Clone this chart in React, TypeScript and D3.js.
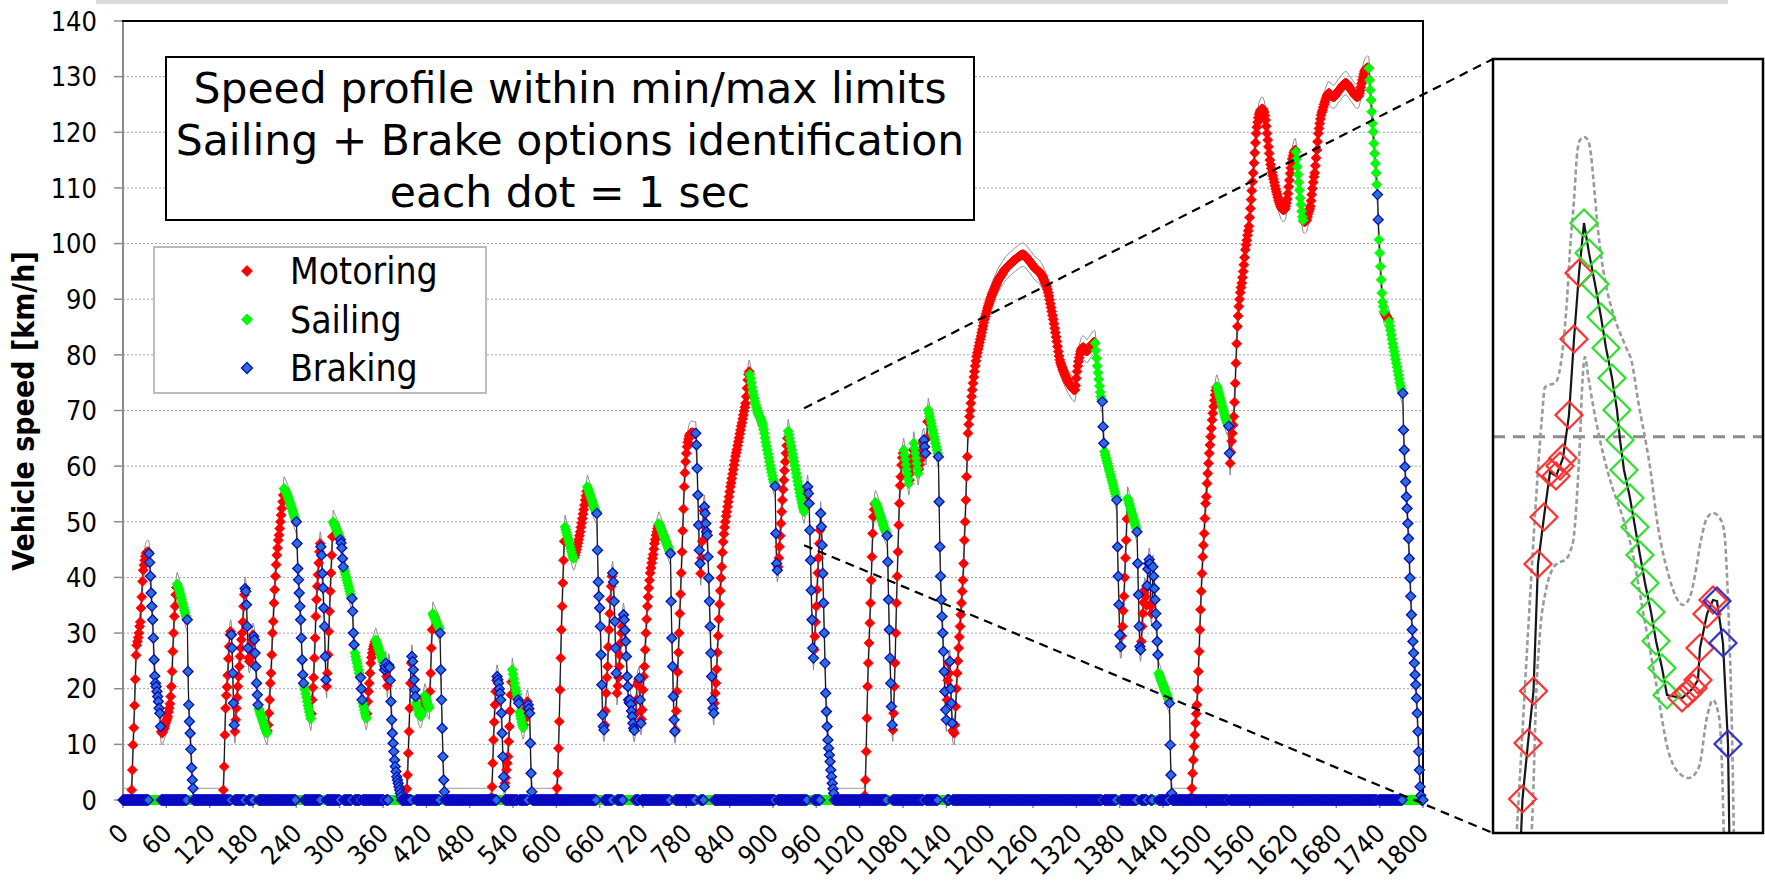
import React, { useEffect, useRef } from "react";
import * as d3 from "d3";

type Part = [string, number[]];

const xTickLabels = [0, 60, 120, 180, 240, 300, 360, 420, 480, 540, 600, 660, 720, 780, 840, 900, 960, 1020, 1080, 1140, 1200, 1260, 1320, 1380, 1440, 1500, 1560, 1620, 1680, 1740, 1800];
const yTickLabels = [0, 10, 20, 30, 40, 50, 60, 70, 80, 90, 100, 110, 120, 130, 140];
const seriesCodes = ["M", "S", "B"];
const seriesNames = ["Motoring", "Sailing", "Braking"];
const titleLines = ["Speed profile within min/max limits", "Sailing + Brake options identification", "each dot = 1 sec"];
const totalSeconds = 1800;
const limitTolerance = 2.1; // km/h, width of the min/max band read at the peaks

// speed [km/h] for every second of each trip, split in runs of the same mode
const trip01Start = 11;
const trip01: Part[] = [
  ["M", [0, 1.8, 5.4, 9.9, 13, 17, 21.7, 26, 27.8, 28.5, 29.2, 30, 31.2, 32, 34.5, 36.5, 39.3, 41.3, 42.2, 43.1, 43.8, 44.3, 44.5, 44.6, 44.6]],
  ["B", [44.3, 42.7, 40.2, 37.2, 34.8, 32.4, 29.1, 25.2, 22.3, 21, 20.4, 19.5, 18.6, 17.7, 16.5, 15.6, 13.2]],
  ["M", [12.3, 12, 12.2, 12.6, 12.9, 13.3, 13.8, 14.2, 14.6, 15, 15.8, 16.5, 17.3, 18.6, 20.4, 23.1, 26.7, 30, 33, 34.8, 36.9, 38.2]],
  ["S", [38.8, 38.4, 38, 37.6, 37.1, 36.6, 36.1, 35.6, 35.1, 34.6, 34.1, 33.6, 33.1, 32.7]],
  ["B", [32.4, 23.1, 17.1, 14.1, 12, 9.1, 5.8, 3.6, 2.1, 0]],
];

const trip02Start = 139;
const trip02: Part[] = [
  ["M", [1.8, 6, 11.7, 16.5, 18.8, 20.3, 22.4, 25.4, 27.6, 29.7, 30.3]],
  ["B", [29.7, 27.3, 22.8, 17.4, 13.5]],
  ["M", [12.3, 14.4, 16.5, 18.4, 20.4, 22.2, 24, 25.8, 27.3, 28.8, 30, 32, 34.8, 36.9]],
  ["B", [38, 37.5, 35.1, 31.2, 27.3]],
  ["M", [25.5, 24.9, 25.5, 26.8, 28.2, 28.8, 29.7]],
  ["B", [29.4, 28.8, 26.4, 24, 21, 18.9, 17.1]],
  ["S", [16.4, 16, 15.6, 15.2, 14.8, 14.4, 14, 13.6, 13.2, 12.8, 12.4, 12]],
  ["M", [12.4, 13.5, 15.6, 18, 21, 22.8, 26.1, 30, 32.1, 35.4, 37.8, 40.2, 42.3, 44, 45.3, 46.7, 47.6, 48.8, 50, 51.2, 52.4, 53.6, 54.8]],
  ["S", [56, 55.8, 55.5, 55.2, 54.9, 54.6, 54.2, 53.9, 53.5, 53.1, 52.7, 52.3, 51.9, 51.5, 51.1, 50.7, 50.3]],
  ["B", [50, 46.1, 41.6, 39.6, 37.2, 34.8, 32.4, 29.1, 25.2, 22.5, 21]],
  ["S", [20.5, 19.8, 19.1, 18.4, 17.7, 17, 16.4, 15.8, 15.2, 14.6]],
  ["M", [15.5, 18, 20.2, 22, 25.5, 29.1, 33, 36, 38.4, 40.5, 42.6, 44.6, 46.1]],
  ["B", [45.5, 44, 40.7, 38.1, 34.5, 31.2, 25.8, 21.6]],
  ["M", [20.4, 22.8, 26.1, 30.3, 33.9, 37.5, 40.8, 44, 47.3]],
  ["S", [50, 49.7, 49.4, 49.1, 48.8, 48.5, 48.2, 47.9, 47.6, 47.3]],
  ["B", [46.8, 46.2, 45.3, 43.4, 41.9]],
  ["S", [41.5, 41, 40.5, 40, 39.5, 39, 38.5, 38, 37.5, 37, 36.5]],
  ["B", [36.2, 33.9, 30, 27.9]],
  ["S", [26.4, 25.8, 25.2, 24.6, 24, 23.4, 22.8, 22.3]],
  ["B", [22, 20, 18]],
  ["S", [17.4, 16.8, 16.2, 15.6, 15.1, 14.7]],
  ["M", [15.5, 17.7, 19.5, 21, 22.8, 24.6, 25.6, 26.4, 27.1, 27.6, 28, 28.5]],
  ["S", [28.8, 28.4, 28, 27.6, 27.2, 26.8, 26.4, 26, 25.6, 25.2, 24.8, 24.4]],
  ["B", [23.4, 24, 24.6]],
  ["M", [22.2, 20.5, 21.8]],
  ["B", [24.2, 23.8, 21.5, 17.7, 14.4, 12, 10.2, 8.7, 7.2, 6, 5.1, 4.2, 3.6, 3, 2.4, 1.8, 1.2, 0.6, 0]],
];

const trip03Start = 392;
const trip03: Part[] = [
  ["M", [0.5, 2, 4.5, 8.4, 12.3, 16.5, 21, 24.6]],
  ["B", [25.8, 24.9, 23.4, 21.6, 19.8, 18.6]],
  ["S", [17.5, 17, 16.5, 16, 15.5, 15.2, 15, 15.3, 15.8]],
  ["M", [16.5, 17.3, 18.2]],
  ["S", [18.8, 18.5, 18, 17.6, 17.2, 16.9, 16.6]],
  ["M", [19.5, 22.8, 27.3, 30.6]],
  ["S", [33.5, 33.2, 32.9, 32.6, 32.3, 32, 31.7, 31.4, 31.1, 30.8]],
  ["B", [30, 23.4, 18, 12.9, 7.8, 3.6, 1.5, 0]],
];

const trip04Start = 510;
const trip04: Part[] = [
  ["M", [0.5, 2.4, 6.6, 10.8, 14, 17.1, 19.5, 21.5]],
  ["B", [22.2, 21.6, 21, 20, 19.2, 18, 15.6, 12, 7.8, 4.2, 2.4]],
  ["M", [3, 4, 5.4, 6.6, 7.8, 10.5, 13.2, 16, 18.9, 21.2]],
  ["S", [23.4, 22.6, 21.8, 21, 20.2, 19.6, 19, 18.4]],
  ["B", [18, 17.4]],
  ["S", [15.8, 15.2, 14.6, 14, 13.5, 13]],
  ["M", [13.5, 14.5, 15.5, 16.5, 17.2, 17.7]],
  ["B", [17.1, 16.4, 15.6, 10.2, 4.8, 1.5, 0]],
];

const trip05Start = 600;
const trip05: Part[] = [
  ["M", [0.5, 2.1, 4.8, 9.3, 14.1, 19.8, 25.5, 30.6, 34.8, 39, 43.1, 46.5]],
  ["S", [49.1, 48.6, 48.1, 47.6, 47.1, 46.6, 46.1, 45.6, 45.1, 44.6, 44.1, 43.7, 43.4]],
  ["M", [43.6, 44, 44.5, 45, 45.6, 46.2, 46.8, 47.5, 48.2, 49, 49.8, 50.6, 51.4, 52.2, 53, 53.9, 54.7, 55.5]],
  ["S", [56.3, 55.9, 55.5, 55.1, 54.7, 54.3, 53.9, 53.5, 53.1, 52.7, 52.4, 52.1, 51.8]],
  ["B", [51.5, 44.9, 39.2, 36.6, 34.5, 31.2, 26.1, 20.7, 15.3, 13.2, 12.6]],
  ["M", [13.5, 16, 19.2, 22, 24, 27.5, 30.6, 33.5, 36, 38.4, 40.2]],
  ["B", [40.8, 39.2, 35.7, 32.1, 27.3, 22.8]],
  ["M", [19.2, 20.5, 22, 24, 26, 28.2, 30, 31.2, 32.6]],
  ["B", [33.3, 32.4, 30.5, 28.5, 25.8, 22.2, 20.4, 18, 17.5, 18, 17.2, 16, 15, 13.8, 12.9, 12.5]],
  ["M", [13.5, 15.6, 18, 20.7, 21.2, 21.6]],
  ["B", [21.9, 18, 13.8]],
  ["M", [14.5, 16.2, 19.8, 22.2, 24, 27, 30, 32.5, 34.8, 36.5, 38.1, 39.5, 40.8, 41.7, 42.6, 43.4, 44.1, 45.1, 46.1, 46.8, 47.6, 48.2, 48.8, 49.3]],
  ["S", [49.7, 49.4, 49, 48.7, 48.4, 48, 47.7, 47.4, 47, 46.7, 46.4, 46, 45.7, 45.4, 45, 44.6]],
  ["B", [44.3, 35.7, 29.1, 24, 18.6, 14.4, 12.3]],
  ["M", [12.6, 16, 19.5, 23, 26.5, 30, 33.5, 37, 40.8, 44.6, 48.4, 52.3, 56.3, 58.8, 60.8, 62.3, 63.5, 64.3, 64.9, 65.4, 65.7, 65.9, 66, 66, 66, 65.9, 65.9, 65.8]],
  ["B", [65.9, 63.8, 59.6, 54.8, 49.4, 44.9, 42.5]],
  ["M", [40.7, 43.5, 46.5, 49.5, 52]],
  ["B", [52.7, 51.5, 49.7, 48.2, 47.6, 43.7, 39.9, 35.7, 31.2, 26.4, 22.2, 18, 16.5, 15.6]],
  ["M", [17.4, 19.2, 21, 23.5, 26.5, 29.5, 32.5, 35.2, 37.6, 39.9, 41.9, 44.5, 46.4, 47.8, 49, 50, 51, 51.8, 52.7, 53.6, 54.5, 55.4, 56.3, 57, 57.8, 58.6, 59.4, 60.2, 61, 61.8, 62.4, 63, 63.7, 64.4, 65.1, 65.8, 66.5, 67.2, 67.8, 68.5, 69.2, 69.9, 70.6, 71.3, 72.5, 74, 75.5, 76.5, 77]],
  ["S", [76.5, 75.8, 75, 74.2, 73.5, 72.8, 72.2, 71.6, 71, 70.5, 70, 69.6, 69.3, 69, 68.8, 68.5, 68.2, 67.8, 67.3, 66.6, 65.9, 65.1, 64.3, 63.6, 62.9, 62.2, 61.5, 60.8, 60.1, 59.5, 58.9, 58.3, 57.7, 57.2, 56.8]],
  ["B", [56.4, 47.9, 42.5, 41.3]],
  ["M", [41.9, 43.5, 45.5, 47.5, 49.7, 51.8, 53.9, 55.8, 57.5, 59.2, 60.8, 62.3, 63.7, 65]],
  ["S", [66.3, 65.7, 65, 64.3, 63.6, 62.9, 62.2, 61.5, 60.8, 60.1, 59.4, 58.7, 58, 57.3, 56.6, 55.9, 55.2, 54.6, 54, 53.4, 52.8, 52.3, 51.8]],
  ["M", [52.5, 53.5, 54.6, 55.6]],
  ["B", [56.3, 55.1, 53.3, 48.5, 43.1, 37.7, 32.4, 27.3, 25.5]],
  ["M", [27, 29.4, 32, 34.8, 37.8, 40.8, 43.5, 46.1, 48.5]],
  ["B", [51.5, 49.1, 45.8, 40.7, 35.4, 30, 24.6, 19.2, 15.9, 13.2, 10.8, 9.3, 8.1, 6.9, 5.4, 4.2, 3, 2, 1.2, 0]],
];

const trip06Start = 1027;
const trip06: Part[] = [
  ["M", [0.8, 3.6, 8.7, 14.7, 20.4, 24.6, 28.2, 31.8, 35.4, 39.5, 43.7, 47.9, 50.9, 52.2, 53.2]],
  ["S", [53.5, 53.2, 52.9, 52.5, 52.1, 51.7, 51.3, 50.9, 50.5, 50.1, 49.7, 49.3, 48.9, 48.6, 48.3, 48]],
  ["B", [47.5, 42.8, 36, 30.6, 25.5, 21, 16.8, 13.5]],
  ["M", [12.6, 15.6, 20.4, 24.6, 30, 35.4, 40.2, 44.6, 49.4, 53.3, 56.5, 58.1, 60.2, 61.5, 62.3]],
  ["S", [62.9, 62, 61.2, 60.3, 59.4, 58.6, 57.7, 56.9]],
  ["M", [57.5, 58.7, 59.9, 60.8, 61.7, 62.9]],
  ["S", [64.1, 63.2, 62.3, 61.4, 60.5, 59.6, 58.7]],
  ["M", [59.5, 60.3, 61.1, 62, 63, 64.1, 64.5]],
  ["B", [64.7, 63.5, 62.3]],
  ["M", [62.3, 65, 68]],
  ["S", [70.1, 69.5, 68.9, 68.3, 67.7, 67.1, 66.5, 65.9, 65.3, 64.7, 64.1, 63.5, 62.9, 62.3]],
  ["B", [61.7, 53.6, 45.5, 40.2, 36, 33, 30, 26.7, 23.1, 19.5, 16.2, 14.4]],
  ["M", [18, 21.5, 24.6, 22.8]],
  ["B", [24.9, 20, 17.4, 13.8]],
  ["M", [
    12.5, 12.2, 12, 13.5, 16.8, 20, 22.8, 25, 27.3, 29.3, 31.2, 33.3, 35.4, 37.5, 39.5, 42.5, 46.7, 50, 53.9, 58.1, 61.7, 65.9, 67.5, 68.9,
    70, 71.3, 72.5, 73.7, 74.9, 76, 77, 78, 78.9, 79.7, 80.4, 81, 81.6, 82.2, 82.8, 83.4, 84, 84.6, 85.2, 85.8,
    86.4, 86.9, 87.4, 87.9, 88.4, 88.8, 89.2, 89.6, 90, 90.4, 90.8, 91.1, 91.4, 91.7, 92, 92.3, 92.6, 92.9, 93.2, 93.5,
    93.7, 93.9, 94.1, 94.3, 94.5, 94.7, 94.9, 95.1, 95.3, 95.5, 95.6, 95.8, 95.9, 96, 96.2, 96.3, 96.4, 96.5, 96.6, 96.8,
    96.9, 97, 97.1, 97.2, 97.3, 97.4, 97.5, 97.6, 97.7, 97.8, 97.9, 97.9, 98, 98, 98,
    97.9, 97.8, 97.7, 97.5, 97.4, 97.2, 97, 96.9, 96.7, 96.5, 96.4, 96.2, 96, 95.8, 95.7, 95.5, 95.4, 95.3, 95.2, 95.1,
    95, 94.9, 94.7, 94.5, 94.3, 94.1, 93.8, 93.5, 93.2, 92.9, 92.6, 92.3, 91.8, 91.2, 90.6, 89.9, 89.2, 88.5, 87.8, 87.1,
    86.4, 85.6, 84.8, 84, 83.2, 82.4, 81.5, 80.6, 79.8, 79.1, 78.6, 78.2, 77.8, 77.4, 77.1, 76.8, 76.5, 76.2, 75.9, 75.6,
    75.3, 75.1, 74.9, 74.7, 74.5, 74.3, 74.1, 73.9, 73.8, 73.7, 73.7,
    74.5, 75.8, 77, 78, 78.8, 79.5, 80.1, 80.6, 81, 81.2, 81.3, 81.3, 81.2, 81, 80.8, 80.7, 80.7, 80.8, 81, 81.2,
    81.4, 81.6, 81.8, 82, 82.1, 82.2, 82.3,
  ]],
  ["S", [82.1, 80.8, 79.4, 78, 76.8, 75.6, 74.4, 73.3, 72.5, 72]],
  ["B", [71.6, 67.1, 64.1]],
  ["S", [62.6, 62, 61.5, 61, 60.5, 60, 59.5, 59, 58.5, 58, 57.5, 57, 56.5, 56, 55.5, 55, 54.5]],
  ["B", [53.9, 45.5, 40.2, 35.1, 29.7, 27.6]],
  ["M", [27.6, 29.5, 31.2, 34, 36.6, 40, 43.5, 46.7, 50.5]],
  ["S", [54.2, 53.8, 53.3, 52.9, 52.4, 52, 51.5, 51.1, 50.6, 50.2, 49.7, 49.3, 48.9]],
  ["B", [48.2, 42.5, 36.9, 31.2, 27.6, 27]],
  ["M", [28.5, 31.2, 33.5, 35.5, 37.2, 37.8, 36.5, 35]],
  ["B", [38.5, 41.5, 42.5, 43.2, 42.5]],
  ["M", [34.8, 33.5, 35.5]],
  ["B", [41.9, 40.2, 38, 36, 33.5, 31.4, 28.5, 26.1]],
  ["S", [22.8, 22.4, 22, 21.6, 21.3, 21, 20.6, 20.3, 20, 19.6, 19.3, 19, 18.7, 18.3, 18]],
  ["B", [17.4, 9.9, 4.5, 1.2, 0]],
];

const trip07Start = 1479;
const trip07: Part[] = [
  ["M", [0.5, 2.1, 4.8, 7.2, 9.6, 11.7, 13.8, 15.5, 17.1, 19.8, 23.1, 26.7, 30.6, 34.2, 37.5, 40.7, 43.7, 45.8, 47.9, 50.6, 53.3, 54.5, 56.9, 58.7, 60.5, 62.3, 63.8, 65.3, 66.8, 68.3, 69.5, 70.7, 71.8, 72.8, 73.6, 74.2]],
  ["S", [74.3, 73.8, 73.3, 72.8, 72.3, 71.8, 71.3, 70.8, 70.3, 69.8, 69.3, 68.8, 68.4, 68, 67.7, 67.5]],
  ["B", [67.2, 62.3]],
  ["M", [
    60.5, 62.5, 64.5, 65.9, 67.4, 68.9, 71.5, 74.9, 78.5, 82, 85.1, 87, 88.7, 90, 91.2, 92.1, 92.9, 93.9, 95, 96.2,
    97.5, 98.9, 99.8, 100.6, 101.5, 102.3, 103.1, 104.7, 106.3, 107.9, 109.5, 111.1, 112.7, 114.5, 116.3, 118.1, 119.8, 120.9, 121.8, 122.6,
    123.2, 123.6, 123.9, 124.1, 124.2, 124.2,
    124, 123.6, 123, 122.2, 121.1, 119.8, 118.6, 117.4, 116.2, 115, 114.2, 113.5, 112.8, 112.2, 111.6, 111, 110.4, 109.8, 109.3, 108.8,
    108.3, 107.8, 107.4, 107, 106.7, 106.4, 106.2, 106.1, 106.1, 106.1, 106.3, 106.7, 107.3, 108, 109, 110.2, 111.4, 112.6, 113.6, 114.5,
    115.2, 115.8, 116.3, 116.6, 116.8,
  ]],
  ["S", [116.5, 115.2, 113.8, 112.4, 111, 109.6, 108.2, 107, 105.8, 104.8, 104.2]],
  ["M", [
    104, 103.9, 104, 104.1, 104.3, 104.8, 105.3, 105.8, 106.2, 106.7, 107.7, 108.8, 109.9, 111, 112, 112.7, 114, 115.4, 116.8, 118.3,
    119.8, 120.7, 121.6, 122.4, 123.1, 123.6, 124, 124.5, 125, 125.4, 125.8, 126.2, 126.5, 126.8, 127, 127, 126.9, 126.8, 126.6, 126.5,
    126.4, 126.4, 126.4, 126.5, 126.7, 126.9, 127.1, 127.3, 127.5, 127.6, 127.7, 127.9, 128.1, 128.3, 128.5, 128.6, 128.7, 128.8, 128.8, 128.8,
    128.7, 128.5, 128.3, 128.1, 127.9, 127.7, 127.6, 127.4, 127.2, 127, 126.8, 126.6, 126.5, 126.4, 126.4, 126.4, 126.6, 127, 127.5, 128.1,
    128.8, 129.4, 130, 130.5, 130.9, 131.2, 131.4, 131.5, 131.6, 131.6,
  ]],
  ["S", [131.5, 129.4, 127.6, 125.8, 123.7, 121.6, 120.1, 118, 116.2, 114.4, 112.7, 110.6]],
  ["B", [108.8, 104.3]],
  ["S", [100.7, 98.3, 95.9, 93.5, 91.1, 89.5, 88.7, 87.8]],
  ["M", [87.5, 87.2, 87, 86.8, 86.6, 86.4]],
  ["S", [86, 85.2, 84.4, 83.6, 82.8, 82, 81.3, 80.6, 79.9, 79.2, 78.5, 77.8, 77.1, 76.4, 75.7, 75, 74.4, 73.9, 73.4]],
  ["B", [73.1, 66.5, 62.9, 59.9, 57.2, 54.5, 52.4, 49.7, 47, 43.4, 39.9, 36.6, 33.3, 30.6, 28.5, 26.4, 24.6, 22.5, 20.7, 18.3, 15.6, 12.3, 8.7, 5.4, 2.4, 0.8, 0, 0]],
];

// zoomed detail (inset units: time 0..50, speed 0..100)
const zoomSourceT = 943;
const zoomSourceV = [70.4, 45.8];
const insetRise = [[5.46, 4.39], [6.48, 11.63], [7.5, 18.35], [8.33, 34.75], [9.44, 40.83], [10.56, 46.64], [11.67, 46.12], [12.41, 47.42], [12.96, 48.45], [14.07, 54.0], [15.0, 63.82], [15.93, 72.35]];
const insetSail = [[16.85, 78.81], [17.78, 74.94], [18.89, 70.93], [20.0, 66.67], [20.93, 62.66], [22.04, 58.79], [22.96, 54.65], [23.52, 50.78], [24.26, 46.9], [25.37, 43.28], [26.3, 39.53], [27.22, 35.92], [28.15, 32.3], [29.26, 28.55], [30.19, 24.81], [31.3, 21.32], [32.22, 17.83]];
const insetValley = [[35.0, 17.44], [36.11, 18.09], [37.04, 18.73], [37.96, 19.77], [38.33, 23.9], [39.63, 28.29], [40.74, 30.1]];
const insetBrake = [[41.48, 29.97], [42.59, 24.55], [43.52, 11.5]];
const insetStart = [5.09, -2];
const insetEnd = [43.8, -2];
const insetUpper = [[4.26, -1.55], [5.37, 12.02], [6.48, 25.84], [7.96, 43.02], [9.07, 53.75], [9.63, 57.62], [11.67, 58.27], [12.78, 61.76], [13.7, 68.86], [14.26, 75.32], [15.0, 81.78], [15.56, 87.6], [16.11, 89.53], [16.85, 89.92], [17.59, 89.53], [18.15, 87.6], [18.52, 85.01], [19.44, 77.91], [20.74, 71.45], [22.22, 67.18], [24.44, 63.05], [25.74, 60.72], [26.85, 55.94], [29.07, 47.29], [30.56, 39.53], [32.41, 33.59], [33.89, 30.49], [35.19, 29.46], [36.48, 30.49], [37.41, 33.33], [38.52, 37.86], [39.63, 40.7], [40.74, 41.34], [41.85, 40.83], [42.78, 39.15], [43.52, 30.1], [44.26, 12.92], [44.63, -1.55]];
const insetLower = [[7.04, -1.55], [7.41, 4.26], [7.96, 17.18], [8.7, 25.84], [9.81, 31.4], [10.93, 33.98], [12.04, 34.88], [13.33, 35.27], [14.26, 36.3], [15.0, 38.5], [15.56, 43.67], [16.11, 50.78], [16.48, 57.24], [17.04, 61.5], [17.59, 59.17], [18.52, 55.3], [19.81, 50.78], [21.85, 45.22], [23.89, 41.09], [25.74, 36.56], [27.96, 27.91], [30.19, 19.38], [32.41, 10.72], [34.44, 7.75], [36.3, 7.11], [38.15, 8.53], [39.63, 14.99], [40.74, 17.18], [41.85, 14.99], [42.41, 8.53], [42.78, -1.55]];
const insetThreshold = 51.2;

const fill: Record<string, string> = { M: "#ff0000", S: "#00ff00", B: "#2a6fd2" };
const edge: Record<string, string> = { M: "#ff0000", S: "#00f000", B: "#0a0abf" };
const insetEdge: Record<string, string> = { M: "#ff3030", S: "#2ee02e", B: "#3030cc" };
const narrowFont = "'DejaVu Sans Condensed', 'DejaVu Sans', sans-serif";
const wideFont = "'DejaVu Sans', sans-serif";

const diamond = (r: number) => `M0,${-r}L${r},0L0,${r}L${-r},0Z`;

const App = () => {
  const ref = useRef<SVGSVGElement>(null);

  useEffect(() => {
    const svg = d3.select(ref.current);
    svg.selectAll("*").remove();

    const x = d3.scaleLinear().domain([0, totalSeconds]).range([123, 1423]);
    const y = d3.scaleLinear().domain([0, 140]).range([800, 21]);

    // one sample per second, 0 km/h while stopped
    const samples = d3.range(0, totalSeconds + 1).map(t => ({ t, v: 0, mode: "" }));
    const trips: [number, Part[]][] = [
      [trip01Start, trip01], [trip02Start, trip02], [trip03Start, trip03], [trip04Start, trip04],
      [trip05Start, trip05], [trip06Start, trip06], [trip07Start, trip07],
    ];
    trips.forEach(([start, parts]) => {
      let t = start;
      parts.forEach(([mode, values]) => {
        values.forEach(v => {
          if (t <= totalSeconds) { samples[t].v = v; samples[t].mode = mode; }
          t++;
        });
      });
    });

    svg.append("rect").attr("width", 1765).attr("height", 885).attr("fill", "#fff");
    svg.append("rect").attr("x", 96).attr("y", 0).attr("width", 1632).attr("height", 4).attr("fill", "#dcdcdc");

    // grid lines
    svg.append("g").selectAll("line")
      .data(yTickLabels.filter(v => v > 0 && v < 140))
      .join("line")
      .attr("x1", x(0)).attr("x2", x(totalSeconds))
      .attr("y1", d => y(d)).attr("y2", d => y(d))
      .attr("stroke", "#a3a3a3").attr("stroke-width", 1).attr("stroke-dasharray", "2,2");

    // y axis
    const yAxis = svg.append("g");
    yAxis.selectAll("line").data(yTickLabels).join("line")
      .attr("x1", 114).attr("x2", x(0)).attr("y1", d => y(d)).attr("y2", d => y(d))
      .attr("stroke", "#8c8c8c").attr("stroke-width", 1.5);
    yAxis.selectAll("text").data(yTickLabels).join("text")
      .attr("x", 97).attr("y", d => y(d)).attr("dy", "0.36em")
      .attr("text-anchor", "end").attr("font-family", narrowFont).attr("font-size", 27)
      .text(d => d);
    svg.append("line").attr("x1", x(0)).attr("x2", x(0)).attr("y1", y(140)).attr("y2", y(0))
      .attr("stroke", "#8c8c8c").attr("stroke-width", 2);

    // x axis ticks and rotated labels
    const xAxis = svg.append("g");
    xAxis.selectAll("line").data(xTickLabels).join("line")
      .attr("x1", d => x(d)).attr("x2", d => x(d)).attr("y1", y(0)).attr("y2", y(0) + 8)
      .attr("stroke", "#8c8c8c").attr("stroke-width", 1.5);
    xAxis.selectAll("text").data(xTickLabels).join("text")
      .attr("transform", d => `translate(${x(d) + 7},${y(0) + 35}) rotate(-45)`)
      .attr("text-anchor", "end").attr("font-family", narrowFont).attr("font-size", 25.8)
      .text(d => d);

    // plot frame (top and right)
    svg.append("line").attr("x1", x(0) - 1).attr("x2", x(totalSeconds) + 1).attr("y1", y(140)).attr("y2", y(140))
      .attr("stroke", "#000").attr("stroke-width", 2);
    svg.append("line").attr("x1", x(totalSeconds)).attr("x2", x(totalSeconds)).attr("y1", y(140)).attr("y2", y(0))
      .attr("stroke", "#000").attr("stroke-width", 2);

    // min / max limit lines and the speed trace
    const upper = d3.line<any>().x(d => x(d.t)).y(d => y(d.v + limitTolerance));
    const lower = d3.line<any>().x(d => x(d.t)).y(d => y(Math.max(0, d.v - limitTolerance)));
    const trace = d3.line<any>().x(d => x(d.t)).y(d => y(d.v));
    svg.append("path").attr("d", upper(samples)).attr("fill", "none").attr("stroke", "#8a8a8a").attr("stroke-width", 1);
    svg.append("path").attr("d", lower(samples)).attr("fill", "none").attr("stroke", "#8a8a8a").attr("stroke-width", 1);
    svg.append("path").attr("d", trace(samples)).attr("fill", "none").attr("stroke", "#111").attr("stroke-width", 1);

    // markers: every series has a dot every second (0 when the mode is not active)
    seriesCodes.forEach(code => {
      const pts = samples.map(s => ({ t: s.t, v: s.mode === code ? s.v : 0 }));
      svg.append("g").selectAll("path").data(pts).join("path")
        .attr("d", diamond(5))
        .attr("transform", d => `translate(${x(d.t)},${y(d.v)})`)
        .attr("fill", fill[code])
        .attr("stroke", edge[code])
        .attr("stroke-width", code === "B" ? 1.3 : 0.8);
    });

    // axis title
    svg.append("text")
      .attr("transform", "translate(34,411) rotate(-90)")
      .attr("text-anchor", "middle").attr("font-family", narrowFont).attr("font-weight", "bold").attr("font-size", 30)
      .text("Vehicle speed [km/h]");

    // title box
    svg.append("rect").attr("x", 166).attr("y", 57).attr("width", 808).attr("height", 163)
      .attr("fill", "#fff").attr("stroke", "#000").attr("stroke-width", 2);
    svg.append("g").selectAll("text").data(titleLines).join("text")
      .attr("x", 570).attr("y", (d, i) => 103 + i * 52)
      .attr("text-anchor", "middle").attr("font-family", wideFont).attr("font-size", 42.5)
      .text(d => d);

    // legend
    svg.append("rect").attr("x", 154).attr("y", 247).attr("width", 332).attr("height", 146)
      .attr("fill", "#fff").attr("stroke", "#a6a6a6").attr("stroke-width", 1.5);
    const legend = svg.append("g").selectAll("g").data(seriesCodes).join("g")
      .attr("transform", (d, i) => `translate(0,${271 + i * 48.5})`);
    legend.append("path").attr("d", diamond(5.5)).attr("transform", "translate(247,0)")
      .attr("fill", d => fill[d]).attr("stroke", d => edge[d]).attr("stroke-width", d => (d === "B" ? 1.3 : 0.8));
    legend.append("text").attr("x", 290).attr("dy", "0.36em")
      .attr("font-family", narrowFont).attr("font-size", 37)
      .text((d, i) => seriesNames[i]);

    // inset with the zoomed detail
    const ix = d3.scaleLinear().domain([0, 50]).range([1493, 1763]);
    const iy = d3.scaleLinear().domain([0, 100]).range([833, 59]);
    const defs = svg.append("defs");
    defs.append("clipPath").attr("id", "inset-clip").append("rect")
      .attr("x", ix(0)).attr("y", iy(100)).attr("width", ix(50) - ix(0)).attr("height", iy(0) - iy(100));
    defs.append("filter").attr("id", "soft").append("feGaussianBlur").attr("stdDeviation", 0.7);

    svg.append("rect").attr("x", ix(0)).attr("y", iy(100)).attr("width", ix(50) - ix(0)).attr("height", iy(0) - iy(100))
      .attr("fill", "#fff");
    const inset = svg.append("g").attr("clip-path", "url(#inset-clip)").append("g").attr("filter", "url(#soft)");
    inset.append("line").attr("x1", ix(0)).attr("x2", ix(50)).attr("y1", iy(insetThreshold)).attr("y2", iy(insetThreshold))
      .attr("stroke", "#8c8c8c").attr("stroke-width", 3).attr("stroke-dasharray", "12,8");
    const iline = d3.line<number[]>().x(d => ix(d[0])).y(d => iy(d[1]));
    const icurve = d3.line<number[]>().x(d => ix(d[0])).y(d => iy(d[1])).curve(d3.curveMonotoneX);
    [insetUpper, insetLower].forEach(env => {
      inset.append("path").attr("d", icurve(env)).attr("fill", "none")
        .attr("stroke", "#9a9a9a").attr("stroke-width", 2.6).attr("stroke-dasharray", "5,3");
    });
    const insetTrace = [insetStart, ...insetRise, ...insetSail, ...insetValley, ...insetBrake, insetEnd];
    inset.append("path").attr("d", iline(insetTrace)).attr("fill", "none").attr("stroke", "#141414").attr("stroke-width", 2.2);
    const insetGroups: [string, number[][]][] = [["M", insetRise], ["S", insetSail], ["M", insetValley], ["B", insetBrake]];
    insetGroups.forEach(([code, pts]) => {
      inset.append("g").selectAll("path").data(pts).join("path")
        .attr("d", diamond(13.5))
        .attr("transform", d => `translate(${ix(d[0])},${iy(d[1])})`)
        .attr("fill", "none").attr("stroke", insetEdge[code]).attr("stroke-width", 2.2);
    });
    svg.append("rect").attr("x", ix(0)).attr("y", iy(100)).attr("width", ix(50) - ix(0)).attr("height", iy(0) - iy(100))
      .attr("fill", "none").attr("stroke", "#000").attr("stroke-width", 2.5);

    // dashed connectors from the zoomed spot to the inset
    svg.append("g").selectAll("line").data(zoomSourceV).join("line")
      .attr("x1", x(zoomSourceT)).attr("y1", d => y(d))
      .attr("x2", ix(0)).attr("y2", (d, i) => (i === 0 ? iy(100) : iy(0)))
      .attr("stroke", "#000").attr("stroke-width", 2.2).attr("stroke-dasharray", "9,6");
  }, []);

  return (
    <div>
      <style>{"body{margin:0;background:#fff}"}</style>
      <svg ref={ref} width={1765} height={885} style={{ display: "block" }} />
    </div>
  );
};

export default App;
